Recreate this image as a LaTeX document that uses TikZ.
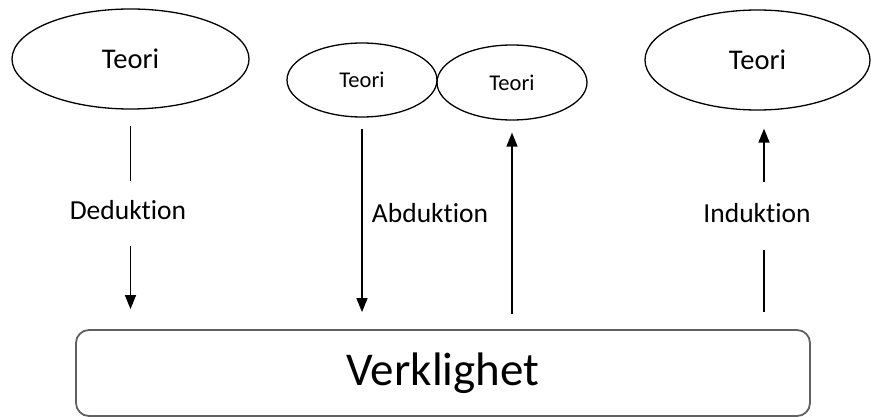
\documentclass[tikz,border=0pt]{standalone}
\usepackage{fontspec}
\setmainfont[Ligatures=NoCommon]{Carlito}
\usetikzlibrary{arrows.meta,shapes.geometric}

\begin{document}
\begin{tikzpicture}[x=1pt,y=-1pt]
        \tikzstyle{teori}=[draw=black, ellipse, line width=1.3pt, inner sep=0pt]
        \tikzstyle{etikett}=[inner sep=0pt, font=\fontsize{27.5}{30}\selectfont]
        \tikzstyle{pil}=[-{Triangle[length=14pt,width=11pt]}]
        \tikzstyle{every path}+=[line width=1.4pt]
        \useasboundingbox (0,0) rectangle (871,417);
        \node [teori, minimum width=237pt, minimum height=100pt, font=\fontsize{28.5}{32}\selectfont] (t1) at (130.5,59) {Teori};
        \node [teori, minimum width=150pt, minimum height=74pt, font=\fontsize{22.5}{26}\selectfont] (t2) at (362,80) {Teori};
        \node [teori, minimum width=150pt, minimum height=75pt, font=\fontsize{22.5}{26}\selectfont] (t3) at (512,82.5) {Teori};
        \node [teori, minimum width=225pt, minimum height=100pt, font=\fontsize{28.5}{32}\selectfont] (t4) at (757.5,60) {Teori};
        \node [draw=black!62, line width=1.8pt, rounded corners=13pt, minimum width=734pt, minimum height=86pt,
               font=\fontsize{47}{50}\selectfont] (real) at (443,373) {Verklighet};
        \node [etikett] (ded) at (128,210) {Deduktion};
        \node [etikett] (abd) at (430,213) {Abduktion};
        \node [etikett] (ind) at (757,213) {Induktion};
        \coordinate (ix) at (764,213);
        \draw [shorten <=16pt, shorten >=19pt] (t1) -- (t1 |- ded.north);
        \draw [pil, shorten <=26pt, shorten >=20pt] (t1 |- ded.south) -- (t1 |- real.north);
        \draw [pil, shorten <=11pt, shorten >=17pt] (t2) -- (t2 |- real.north);
        \draw [pil, shorten <=15pt, shorten >=12pt] (t3 |- real.north) -- (t3);
        \draw [shorten <=17pt, shorten >=27pt] (ix |- real.north) -- (ix |- ind.south);
        \draw [pil, shorten <=21pt, shorten >=18pt] (ix |- ind.north) -- (ix |- t4.south);
\end{tikzpicture}
\end{document}
